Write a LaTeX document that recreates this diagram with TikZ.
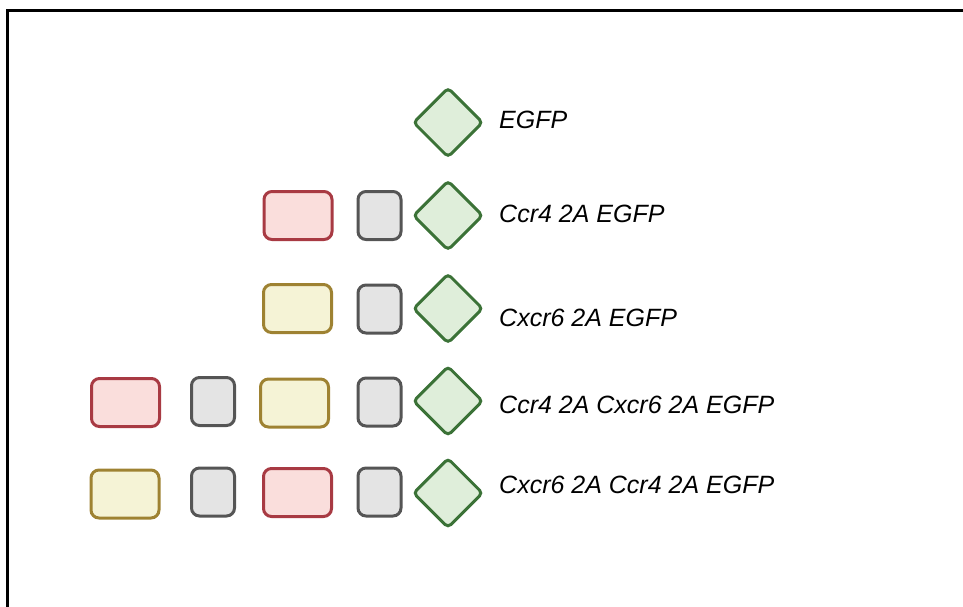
\documentclass[tikz,border=0pt]{standalone}
\usepackage{fontspec}
\setmainfont{Liberation Sans}
\usetikzlibrary{shapes.geometric}
\definecolor{redfill}{HTML}{FADEDC}
\definecolor{redline}{HTML}{A83A43}
\definecolor{yelfill}{HTML}{F5F3D6}
\definecolor{yelline}{HTML}{9E8232}
\definecolor{grayfill}{HTML}{E4E4E4}
\definecolor{grayline}{HTML}{555555}
\definecolor{grnfill}{HTML}{DFEEDA}
\definecolor{grnline}{HTML}{3B7237}
\tikzset{
  part/.style={draw, line width=3pt, rounded corners=8pt, inner sep=0pt},
  redbox/.style={part, draw=redline, fill=redfill, minimum width=68pt, minimum height=48pt},
  yelbox/.style={part, draw=yelline, fill=yelfill, minimum width=68pt, minimum height=48pt},
  graybox/.style={part, draw=grayline, fill=grayfill, minimum width=43pt, minimum height=48pt},
  gfp/.style={diamond, draw=grnline, fill=grnfill, line width=3pt, rounded corners=4pt,
    inner sep=0pt, minimum width=70pt, minimum height=70pt},
  label/.style={anchor=base west, inner sep=0pt, font=\fontsize{25}{29}\selectfont\itshape}
}
\begin{document}
\begin{tikzpicture}[x=1pt, y=-1pt]
  \useasboundingbox (0,0) rectangle (963,606);
  % frame edges
  \draw[line width=2.3pt, black] (7.5,620) -- (7.5,10.5) -- (975,10.5);

  % EGFP
  \node[gfp] (d1) at (448,122.5) {};
  \node[label] (t1) at (499,128) {EGFP};

  % Ccr4 2A EGFP
  \node[redbox]  (r2) at (298,215.5) {};
  \node[graybox] (g2) at (379.5,215.5) {};
  \node[gfp]     (d2) at (448,215.5) {};
  \node[label]   (t2) at (499,222) {Ccr4 2A EGFP};

  % Cxcr6 2A EGFP
  \node[yelbox]  (y3) at (297.5,308.5) {};
  \node[graybox] (g3) at (379.5,309) {};
  \node[gfp]     (d3) at (448,308.5) {};
  \node[label]   (t3) at (499,326) {Cxcr6 2A EGFP};

  % Ccr4 2A Cxcr6 2A EGFP
  \node[redbox]  (r4) at (125.5,402.5) {};
  \node[graybox] (g4a) at (213,401.5) {};
  \node[yelbox]  (y4) at (294.5,403) {};
  \node[graybox] (g4b) at (379.5,402) {};
  \node[gfp]     (d4) at (448,401) {};
  \node[label]   (t4) at (499,413) {Ccr4 2A Cxcr6 2A EGFP};

  % Cxcr6 2A Ccr4 2A EGFP
  \node[yelbox]  (y5) at (125,494) {};
  \node[graybox] (g5a) at (213,492) {};
  \node[redbox]  (r5) at (297.5,492.5) {};
  \node[graybox] (g5b) at (379.5,492) {};
  \node[gfp]     (d5) at (448,493) {};
  \node[label]   (t5) at (499,493) {Cxcr6 2A Ccr4 2A EGFP};
\end{tikzpicture}
\end{document}
